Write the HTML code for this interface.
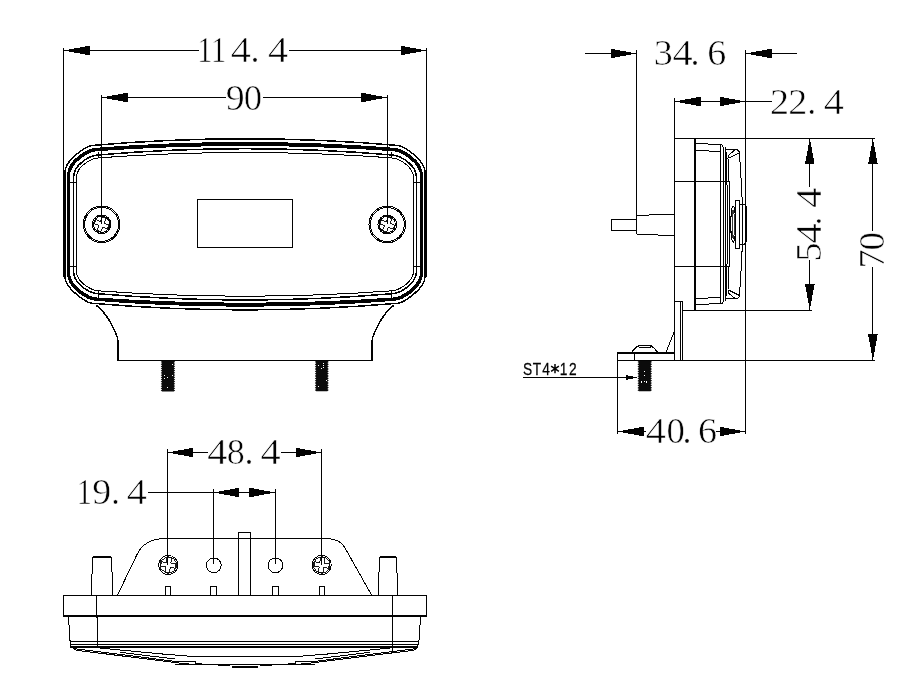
<!DOCTYPE html>
<html><head><meta charset="utf-8"><title>drawing</title>
<style>
html,body{margin:0;padding:0;background:#fff;}
body{width:921px;height:691px;overflow:hidden;}
svg{display:block;}
.d{font-family:"Liberation Serif",serif;fill:#000;stroke:#fff;stroke-width:0.55px;paint-order:fill stroke;}
.s{font-family:"Liberation Sans",sans-serif;fill:#000;stroke:#000;stroke-width:0.25px;}
</style></head><body>
<svg width="921" height="691" viewBox="0 0 921 691" fill="none" stroke="#000" shape-rendering="crispEdges">
<rect x="0" y="0" width="921" height="691" fill="#fff" stroke="none"/>
<g style="opacity:0.995">

<g id="front">
<path d="M64.90,172.30 C64.90,159.00 87.90,145.90 91.40,145.50 Q245.00,132.10 398.60,145.50 C402.10,145.90 425.10,159.00 425.10,172.30 L425.10,276.40 C425.10,289.70 402.10,302.80 398.60,303.20 Q245.00,316.60 91.40,303.20 C87.90,302.80 64.90,289.70 64.90,276.40 Z" stroke-width="1.5" fill="none" />
<path d="M67.90,176.20 C67.90,160.20 87.90,149.10 96.90,148.70 Q245.00,137.30 393.10,148.70 C402.10,149.10 422.10,160.20 422.10,176.20 L422.10,272.50 C422.10,288.50 402.10,299.60 393.10,300.00 Q245.00,311.40 96.90,300.00 C87.90,299.60 67.90,288.50 67.90,272.50 Z" stroke-width="2.0" fill="none" />
<path d="M68.70,177.60 C68.70,161.60 88.70,150.50 97.70,150.10 Q245.00,139.90 392.30,150.10 C401.30,150.50 421.30,161.60 421.30,177.60 L421.30,271.10 C421.30,287.10 401.30,298.20 392.30,298.60 Q245.00,308.80 97.70,298.60 C88.70,298.20 68.70,287.10 68.70,271.10 Z" stroke-width="2.0" fill="none" />
<path d="M73.60,176.90 C73.60,165.90 88.00,155.30 99.00,154.90 Q245.00,142.50 391.00,154.90 C402.00,155.30 416.40,165.90 416.40,176.90 L416.40,271.80 C416.40,282.80 402.00,293.40 391.00,293.80 Q245.00,306.20 99.00,293.80 C88.00,293.40 73.60,282.80 73.60,271.80 Z" stroke-width="1.5" fill="none" />
<path d="M76.50,177.80 C76.50,165.80 91.70,158.20 99.00,157.80 Q245.00,147.20 391.00,157.80 C398.30,158.20 413.50,165.80 413.50,177.80 L413.50,270.90 C413.50,282.90 398.30,290.50 391.00,290.90 Q245.00,301.50 99.00,290.90 C91.70,290.50 76.50,282.90 76.50,270.90 Z" stroke-width="1.0" fill="none" />
<line x1="68.0" y1="182.5" x2="76.0" y2="182.5" stroke-width="1.0" />
<line x1="68.0" y1="266.5" x2="76.0" y2="266.5" stroke-width="1.0" />
<line x1="98.5" y1="151.5" x2="98.5" y2="158" stroke-width="1.0" />
<line x1="98.5" y1="291" x2="98.5" y2="297.5" stroke-width="1.0" />
<line x1="422.0" y1="182.5" x2="414.0" y2="182.5" stroke-width="1.0" />
<line x1="422.0" y1="266.5" x2="414.0" y2="266.5" stroke-width="1.0" />
<line x1="391.5" y1="151.5" x2="391.5" y2="158" stroke-width="1.0" />
<line x1="391.5" y1="291" x2="391.5" y2="297.5" stroke-width="1.0" />
<rect x="197.5" y="199.5" width="95" height="48" stroke-width="1.1"/>
<circle cx="101.6" cy="224.3" r="18.3" stroke-width="1"/>
<circle cx="101.6" cy="224.3" r="17.0" stroke-width="1"/>
<circle cx="101.6" cy="224.3" r="9.3" stroke-width="1"/>
<circle cx="101.6" cy="224.3" r="8.1" stroke-width="1"/>
<path d="M-2.106,-7.128 L2.106,-7.128 L2.106,-2.106 L7.128,-2.106 L7.128,2.106 L2.106,2.106 L2.106,7.128 L-2.106,7.128 L-2.106,2.106 L-7.128,2.106 L-7.128,-2.106 L-2.106,-2.106 Z" transform="translate(101.6,224.3) rotate(22)" stroke-width="0.9"/>
<circle cx="387.3" cy="224.5" r="18.3" stroke-width="1"/>
<circle cx="387.3" cy="224.5" r="17.0" stroke-width="1"/>
<circle cx="387.3" cy="224.5" r="9.3" stroke-width="1"/>
<circle cx="387.3" cy="224.5" r="8.1" stroke-width="1"/>
<path d="M-2.106,-7.128 L2.106,-7.128 L2.106,-2.106 L7.128,-2.106 L7.128,2.106 L2.106,2.106 L2.106,7.128 L-2.106,7.128 L-2.106,2.106 L-7.128,2.106 L-7.128,-2.106 L-2.106,-2.106 Z" transform="translate(387.3,224.5) rotate(22)" stroke-width="0.9"/>
<path d="M96,305.2 C100.5,308.5 107.5,316.5 111.8,325 C114,329.5 116.3,334 117.3,337.2 Q118.0,340 118.0,345 L118.0,360.3 L372.0,360.3 L372.0,345 Q372.0,340 372.7,337.2 C373.7,334 376.0,329.5 378.2,325 C382.5,316.5 389.5,308.5 394.0,305.2" stroke-width="1.5" fill="none" />
<polygon points="161.9,360.8 174.0,360.8 175.2,361.8 173.7,363.0 175.2,364.0 173.7,365.2 175.2,366.2 173.7,367.4 175.2,368.4 173.7,369.6 175.2,370.6 173.7,371.8 175.2,372.8 173.7,374.0 175.2,375.0 173.7,376.2 175.2,377.2 173.7,378.4 175.2,379.4 173.7,380.6 175.2,381.6 173.7,382.8 175.2,383.8 173.7,385.0 175.2,386.0 173.7,387.2 175.2,388.2 173.7,389.4 175.2,390.4 173.7,391.6 172.1,391.6 162.2,391.6 160.7,390.6 162.2,389.4 160.7,388.4 162.2,387.2 160.7,386.2 162.2,385.0 160.7,384.0 162.2,382.8 160.7,381.8 162.2,380.6 160.7,379.6 162.2,378.4 160.7,377.4 162.2,376.2 160.7,375.2 162.2,374.0 160.7,373.0 162.2,371.8 160.7,370.8 162.2,369.6 160.7,368.6 162.2,367.4 160.7,366.4 162.2,365.2 160.7,364.2 162.2,363.0 160.7,362.0 162.2,360.8" fill="#0a0a0a" stroke="none" shape-rendering="auto"/>
<rect x="166.8" y="377.0" width="1" height="1" fill="#fff" stroke="none"/>
<rect x="166.8" y="386.8" width="1" height="1" fill="#fff" stroke="none"/>
<rect x="171.5" y="363.7" width="1" height="1" fill="#fff" stroke="none"/>
<rect x="171.5" y="375.4" width="1" height="1" fill="#fff" stroke="none"/>
<rect x="164.3" y="374.7" width="1" height="1" fill="#fff" stroke="none"/>
<rect x="164.3" y="375.1" width="1" height="1" fill="#fff" stroke="none"/>
<rect x="164.3" y="378.2" width="1" height="1" fill="#fff" stroke="none"/>
<polygon points="316.0,360.8 327.6,360.8 328.8,361.9 327.3,363.1 328.8,364.2 327.3,365.5 328.8,366.5 327.3,367.8 328.8,368.9 327.3,370.2 328.8,371.2 327.3,372.5 328.8,373.5 327.3,374.8 328.8,375.9 327.3,377.2 328.8,378.2 327.3,379.5 328.8,380.6 327.3,381.8 328.8,382.9 327.3,384.2 328.8,385.2 327.3,386.5 328.8,387.6 327.3,388.9 328.8,389.9 327.3,391.2 325.7,391.2 316.3,391.2 314.8,390.1 316.3,388.9 314.8,387.8 316.3,386.5 314.8,385.5 316.3,384.2 314.8,383.1 316.3,381.8 314.8,380.8 316.3,379.5 314.8,378.5 316.3,377.2 314.8,376.1 316.3,374.8 314.8,373.8 316.3,372.5 314.8,371.4 316.3,370.2 314.8,369.1 316.3,367.8 314.8,366.8 316.3,365.5 314.8,364.4 316.3,363.1 314.8,362.1 316.3,360.8" fill="#0a0a0a" stroke="none" shape-rendering="auto"/>
<rect x="325.6" y="380.4" width="1" height="1" fill="#fff" stroke="none"/>
<rect x="323.4" y="363.2" width="1" height="1" fill="#fff" stroke="none"/>
<rect x="318.4" y="364.8" width="1" height="1" fill="#fff" stroke="none"/>
<rect x="323.4" y="366.5" width="1" height="1" fill="#fff" stroke="none"/>
<rect x="323.4" y="365.2" width="1" height="1" fill="#fff" stroke="none"/>
<rect x="318.4" y="385.7" width="1" height="1" fill="#fff" stroke="none"/>
<rect x="320.9" y="368.1" width="1" height="1" fill="#fff" stroke="none"/>
</g>
<g id="frontdims">
<line x1="63.5" y1="47.5" x2="63.5" y2="277" stroke-width="1.0" />
<line x1="426.5" y1="47.5" x2="426.5" y2="277" stroke-width="1.0" />
<line x1="63.5" y1="50.5" x2="199" y2="50.5" stroke-width="1.0" />
<line x1="289.3" y1="50.5" x2="426.5" y2="50.5" stroke-width="1.0" />
<polygon points="63.5,50.5 89.5,45.7 89.5,55.3" fill="#000" stroke="none"/>
<polygon points="426.5,50.5 400.5,45.7 400.5,55.3" fill="#000" stroke="none"/>
<text transform="translate(204.9,62.1) scale(0.84,1)" text-anchor="middle" font-size="36" class="d">1</text>
<text transform="translate(218.6,62.1) scale(0.84,1)" text-anchor="middle" font-size="36" class="d">1</text>
<text transform="translate(240.9,62.1) scale(1.12,1)" text-anchor="middle" font-size="36" class="d">4</text>
<text transform="translate(255.0,62.1) scale(1.0,1)" text-anchor="middle" font-size="36" class="d">.</text>
<text transform="translate(278.0,62.1) scale(1.12,1)" text-anchor="middle" font-size="36" class="d">4</text>
<line x1="101.5" y1="95" x2="101.5" y2="224" stroke-width="1.0" />
<line x1="387.3" y1="95" x2="387.3" y2="224" stroke-width="1.0" />
<line x1="101.5" y1="97.5" x2="226" y2="97.5" stroke-width="1.0" />
<line x1="263" y1="97.5" x2="387.3" y2="97.5" stroke-width="1.0" />
<polygon points="101.5,97.5 127.5,92.7 127.5,102.3" fill="#000" stroke="none"/>
<polygon points="387.3,97.5 361.3,92.7 361.3,102.3" fill="#000" stroke="none"/>
<text transform="translate(235.3,109.6) scale(1.05,1)" text-anchor="middle" font-size="36" class="d">9</text>
<text transform="translate(252.9,109.6) scale(1.02,1)" text-anchor="middle" font-size="36" class="d">0</text>
</g>
<g id="side">
<line x1="585" y1="53.5" x2="636.7" y2="53.5" stroke-width="1.0" />
<polygon points="636.7,53.5 610.7,48.7 610.7,58.3" fill="#000" stroke="none"/>
<line x1="636.7" y1="50" x2="636.7" y2="215" stroke-width="1.0" />
<line x1="745.5" y1="50" x2="745.5" y2="433.5" stroke-width="1.0" />
<polygon points="745.5,53.5 771.5,48.7 771.5,58.3" fill="#000" stroke="none"/>
<line x1="745.5" y1="53.5" x2="796.7" y2="53.5" stroke-width="1.0" />
<text transform="translate(663.2,64.6) scale(1.06,1)" text-anchor="middle" font-size="36" class="d">3</text>
<text transform="translate(682.6,64.6) scale(1.12,1)" text-anchor="middle" font-size="36" class="d">4</text>
<text transform="translate(695.0,64.6) scale(1.0,1)" text-anchor="middle" font-size="36" class="d">.</text>
<text transform="translate(716.8,64.6) scale(1.06,1)" text-anchor="middle" font-size="36" class="d">6</text>
<line x1="674.6" y1="98.3" x2="674.6" y2="138" stroke-width="1.0" />
<line x1="674.6" y1="101.5" x2="771.5" y2="101.5" stroke-width="1.0" />
<polygon points="674.6,101.5 700.6,96.7 700.6,106.3" fill="#000" stroke="none"/>
<polygon points="745.5,101.5 719.5,96.7 719.5,106.3" fill="#000" stroke="none"/>
<text transform="translate(779.5,114.3) scale(1.06,1)" text-anchor="middle" font-size="36" class="d">2</text>
<text transform="translate(797.8,114.3) scale(1.06,1)" text-anchor="middle" font-size="36" class="d">2</text>
<text transform="translate(811.7,114.3) scale(1.0,1)" text-anchor="middle" font-size="36" class="d">.</text>
<text transform="translate(833.7,114.3) scale(1.12,1)" text-anchor="middle" font-size="36" class="d">4</text>
<line x1="674.6" y1="138.2" x2="874.7" y2="138.2" stroke-width="1.0" />
<line x1="809.8" y1="138.2" x2="809.8" y2="187.4" stroke-width="1.0" />
<line x1="809.8" y1="260.3" x2="809.8" y2="310" stroke-width="1.0" />
<polygon points="809.8,138.2 805.0,164.2 814.6,164.2" fill="#000" stroke="none"/>
<polygon points="809.8,310.0 805.0,284.0 814.6,284.0" fill="#000" stroke="none"/>
<line x1="682.7" y1="310" x2="812.3" y2="310" stroke-width="1.0" />
<text transform="translate(820.6,252.0) rotate(-90) scale(1.06,1)" text-anchor="middle" font-size="36" class="d">5</text>
<text transform="translate(820.6,233.4) rotate(-90) scale(1.12,1)" text-anchor="middle" font-size="36" class="d">4</text>
<text transform="translate(820.6,220.9) rotate(-90) scale(1.0,1)" text-anchor="middle" font-size="36" class="d">.</text>
<text transform="translate(820.6,197.8) rotate(-90) scale(1.12,1)" text-anchor="middle" font-size="36" class="d">4</text>
<line x1="872.9" y1="138.2" x2="872.9" y2="230.8" stroke-width="1.0" />
<line x1="872.9" y1="267.3" x2="872.9" y2="360.3" stroke-width="1.0" />
<polygon points="872.9,138.2 868.1,164.2 877.7,164.2" fill="#000" stroke="none"/>
<polygon points="872.9,360.3 868.1,334.3 877.7,334.3" fill="#000" stroke="none"/>
<text transform="translate(884.0,259.0) rotate(-90) scale(1.06,1)" text-anchor="middle" font-size="36" class="d">7</text>
<text transform="translate(884.0,241.2) rotate(-90) scale(1.02,1)" text-anchor="middle" font-size="36" class="d">0</text>
<line x1="617.4" y1="360.3" x2="875" y2="360.3" stroke-width="1.0" />
<line x1="617.6" y1="360.3" x2="617.6" y2="433.5" stroke-width="1.0" />
<line x1="617.6" y1="431.5" x2="646" y2="431.5" stroke-width="1.0" />
<line x1="716" y1="431.5" x2="745.5" y2="431.5" stroke-width="1.0" />
<polygon points="617.6,431.5 643.6,426.7 643.6,436.3" fill="#000" stroke="none"/>
<polygon points="745.5,431.5 719.5,426.7 719.5,436.3" fill="#000" stroke="none"/>
<text transform="translate(655.9,443.0) scale(1.12,1)" text-anchor="middle" font-size="36" class="d">4</text>
<text transform="translate(675.6,443.0) scale(1.02,1)" text-anchor="middle" font-size="36" class="d">0</text>
<text transform="translate(687.1,443.0) scale(1.0,1)" text-anchor="middle" font-size="36" class="d">.</text>
<text transform="translate(707.5,443.0) scale(1.06,1)" text-anchor="middle" font-size="36" class="d">6</text>
<text transform="translate(527.6,374.6) scale(0.86,1)" text-anchor="middle" font-size="16" class="s">S</text>
<text transform="translate(537.0,374.6) scale(0.86,1)" text-anchor="middle" font-size="16" class="s">T</text>
<text transform="translate(546.0,374.6) scale(0.86,1)" text-anchor="middle" font-size="16" class="s">4</text>
<text transform="translate(563.6,374.6) scale(0.86,1)" text-anchor="middle" font-size="16" class="s">1</text>
<text transform="translate(572.8,374.6) scale(0.86,1)" text-anchor="middle" font-size="16" class="s">2</text>
<path d="M555.0,364.09999999999997 L555.0,373.3 M551.1,366.09999999999997 L558.9,371.3 M551.1,371.3 L558.9,366.09999999999997" stroke-width="1.5" shape-rendering="auto"/>
<line x1="522.6" y1="377.5" x2="626" y2="377.5" stroke-width="1.0" />
<polygon points="637.0,377.5 625.5,374.8 625.5,380.2" fill="#000" stroke="none"/>
<line x1="674.6" y1="138.2" x2="674.6" y2="360.3" stroke-width="1.1" />
<line x1="695.2" y1="138.2" x2="695.2" y2="310" stroke-width="2.0" />
<line x1="674.6" y1="181.9" x2="728.5" y2="181.9" stroke-width="1.0" />
<line x1="674.6" y1="266.5" x2="728.5" y2="266.5" stroke-width="1.0" />
<path d="M695,143.6 L707.7,143.6 L709,144.6 L721.2,144.6 Q723.0,144.8 723.0,146.8 L723.0,301.59999999999997 Q723.0,303.59999999999997 721.2,303.79999999999995 L709,303.79999999999995 L707.7,304.79999999999995 L695,304.79999999999995" stroke-width="1.0" fill="none" />
<path d="M695,150.2 L707.7,150.2 L709,151.2 L721,151.2" stroke-width="1.0" fill="none" />
<path d="M695,298.2 L707.7,298.2 L709,297.2 L721,297.2" stroke-width="1.0" fill="none" />
<line x1="720.5" y1="144.6" x2="720.5" y2="303.79999999999995" stroke-width="1.0" />
<line x1="725.0" y1="147" x2="725.0" y2="301.4" stroke-width="1.0" />
<path d="M725.9,148 Q729.0,224.2 725.9,300.4" stroke-width="1.0" fill="none" />
<path d="M725.6,149.7 L736.5,149.7 Q739.3,150 739.6,153 L739.9,160 Q745.3,224.2 739.9,288.4 L739.6,295.4 Q739.3,298.4 736.5,298.7 L725.6,298.7" stroke-width="1.0" fill="none" />
<path d="M728,158.5 Q728,156 729,154.8 L734.6,150.2 M729.3,158 L738.8,153.2 M728,158.5 Q731.9,224.2 728,289.9 M728,289.9 Q728,292.4 729,293.59999999999997 L734.6,298.2 M729.3,290.4 L738.8,295.2" stroke-width="1.0" fill="none" />
<rect x="735.5" y="200.2" width="4" height="48" stroke-width="1"/>
<ellipse cx="733.2" cy="224.2" rx="2.4" ry="18" stroke-width="1"/>
<ellipse cx="733.2" cy="224.2" rx="1.2" ry="14.5" stroke-width="0.8"/>
<path d="M739.5,204.2 L744.5,204.2 Q746.8,206 746.8,210 L746.8,238.39999999999998 Q746.8,242.39999999999998 744.5,244.2 L739.5,244.2" stroke-width="1.0" fill="none" />
<line x1="742.6" y1="205" x2="742.6" y2="243.39999999999998" stroke-width="0.9" />
<path d="M674.6,214 L636.7,215.5 L636.7,234 L674.6,235.8" stroke-width="1.0" fill="none" />
<path d="M636.7,219 L611,219 L611,230 L636.7,230" stroke-width="1.0" fill="none" />
<path d="M674.6,301.7 L682.4,301.7 L682.4,360.3" stroke-width="1.1" fill="none" />
<line x1="680.3" y1="301.7" x2="680.3" y2="360.3" stroke-width="1.0" />
<path d="M674.6,353 L617.4,353 L617.4,360.3" stroke-width="1.1" fill="none" />
<line x1="634.3" y1="353" x2="634.3" y2="360.3" stroke-width="1.0" />
<path d="M631.3,353 C634,349 636.5,346 640,345.6 L649.5,345.6 C653,346 655.5,349 657.9,353" stroke-width="1.3" fill="none" />
<path d="M638.5,347.3 L651,347.3" stroke-width="1.0" fill="none" />
<line x1="666" y1="352.5" x2="674.2" y2="331.7" stroke-width="1.0" />
<polygon points="638.7,360.8 650.8,360.8 652.0,361.9 650.5,363.1 652.0,364.2 650.5,365.5 652.0,366.5 650.5,367.8 652.0,368.9 650.5,370.2 652.0,371.2 650.5,372.5 652.0,373.6 650.5,374.9 652.0,375.9 650.5,377.2 652.0,378.3 650.5,379.6 652.0,380.6 650.5,381.9 652.0,383.0 650.5,384.3 652.0,385.3 650.5,386.6 652.0,387.7 650.5,389.0 652.0,390.0 650.5,391.3 648.9,391.3 639.0,391.3 637.5,390.2 639.0,389.0 637.5,387.9 639.0,386.6 637.5,385.6 639.0,384.3 637.5,383.2 639.0,381.9 637.5,380.9 639.0,379.6 637.5,378.5 639.0,377.2 637.5,376.2 639.0,374.9 637.5,373.8 639.0,372.5 637.5,371.5 639.0,370.2 637.5,369.1 639.0,367.8 637.5,366.8 639.0,365.5 637.5,364.4 639.0,363.1 637.5,362.1 639.0,360.8" fill="#0a0a0a" stroke="none" shape-rendering="auto"/>
<rect x="643.6" y="374.9" width="1" height="1" fill="#fff" stroke="none"/>
<rect x="646.1" y="381.3" width="1" height="1" fill="#fff" stroke="none"/>
<rect x="641.1" y="381.1" width="1" height="1" fill="#fff" stroke="none"/>
<rect x="643.6" y="370.8" width="1" height="1" fill="#fff" stroke="none"/>
<rect x="641.1" y="381.6" width="1" height="1" fill="#fff" stroke="none"/>
<rect x="646.1" y="382.2" width="1" height="1" fill="#fff" stroke="none"/>
<rect x="643.6" y="381.1" width="1" height="1" fill="#fff" stroke="none"/>
</g>
<g id="bottom">
<line x1="167.3" y1="449.3" x2="167.3" y2="565" stroke-width="1.0" />
<line x1="321.6" y1="449.3" x2="321.6" y2="565" stroke-width="1.0" />
<line x1="167.3" y1="452.5" x2="208" y2="452.5" stroke-width="1.0" />
<line x1="281.3" y1="452.5" x2="321.6" y2="452.5" stroke-width="1.0" />
<polygon points="167.3,452.5 193.3,447.7 193.3,457.3" fill="#000" stroke="none"/>
<polygon points="321.6,452.5 295.6,447.7 295.6,457.3" fill="#000" stroke="none"/>
<text transform="translate(217.3,464.0) scale(1.12,1)" text-anchor="middle" font-size="36" class="d">4</text>
<text transform="translate(235.7,464.0) scale(1.0,1)" text-anchor="middle" font-size="36" class="d">8</text>
<text transform="translate(249.0,464.0) scale(1.0,1)" text-anchor="middle" font-size="36" class="d">.</text>
<text transform="translate(270.5,464.0) scale(1.12,1)" text-anchor="middle" font-size="36" class="d">4</text>
<line x1="213.4" y1="489.3" x2="213.4" y2="564" stroke-width="1.0" />
<line x1="275.3" y1="489.3" x2="275.3" y2="564" stroke-width="1.0" />
<line x1="147.6" y1="492.5" x2="275.3" y2="492.5" stroke-width="1.0" />
<polygon points="213.4,492.5 239.4,487.7 239.4,497.3" fill="#000" stroke="none"/>
<polygon points="275.3,492.5 249.3,487.7 249.3,497.3" fill="#000" stroke="none"/>
<text transform="translate(84.3,503.6) scale(0.84,1)" text-anchor="middle" font-size="36" class="d">1</text>
<text transform="translate(101.8,503.6) scale(1.05,1)" text-anchor="middle" font-size="36" class="d">9</text>
<text transform="translate(115.5,503.6) scale(1.0,1)" text-anchor="middle" font-size="36" class="d">.</text>
<text transform="translate(136.8,503.6) scale(1.12,1)" text-anchor="middle" font-size="36" class="d">4</text>
<rect x="63.5" y="595.5" width="363" height="21" stroke-width="1.1"/>
<line x1="63.5" y1="615.8" x2="426.5" y2="615.8" stroke-width="2.0" />
<path d="M96.8,595.5 L97.3,648.5" stroke-width="1.0" fill="none" />
<path d="M392.8,595.5 L392.3,652" stroke-width="1.0" fill="none" />
<path d="M91.8,595.5 L91.8,575 L92.8,571 L92.8,557.5 L111.7,557.5 L111.7,571 L112.7,575 L112.7,595.5" stroke-width="1.0" fill="none" />
<line x1="93.3" y1="557.3" x2="111.2" y2="557.3" stroke-width="2.2" />
<path d="M378.2,595.5 L378.2,575 L379.2,571 L379.2,557.5 L396.5,557.5 L396.5,571 L397.5,575 L397.5,595.5" stroke-width="1.0" fill="none" />
<line x1="379.7" y1="557.3" x2="396.0" y2="557.3" stroke-width="2.2" />
<path d="M117.3,595.5 L137,554.5 C141,546 150,538.5 165,538.5 L325.5,538.5 C340,538.5 343.5,545 347,551.5 L371.8,595.5" stroke-width="1.0" fill="none" />
<path d="M238.4,595.5 L238.4,532.6 L250.5,532.6 L250.5,595.5" stroke-width="1.0" fill="none" />
<circle cx="168.3" cy="565" r="9.6" stroke-width="1"/>
<circle cx="168.3" cy="565" r="8.2" stroke-width="0.9"/>
<path d="M-2.2,-7.4 L2.2,-7.4 L2.2,-2.2 L7.4,-2.2 L7.4,2.2 L2.2,2.2 L2.2,7.4 L-2.2,7.4 L-2.2,2.2 L-7.4,2.2 L-7.4,-2.2 L-2.2,-2.2 Z" transform="translate(168.3,565) rotate(8)" stroke-width="0.9"/>
<circle cx="321.7" cy="565" r="9.6" stroke-width="1"/>
<circle cx="321.7" cy="565" r="8.2" stroke-width="0.9"/>
<path d="M-2.2,-7.4 L2.2,-7.4 L2.2,-2.2 L7.4,-2.2 L7.4,2.2 L2.2,2.2 L2.2,7.4 L-2.2,7.4 L-2.2,2.2 L-7.4,2.2 L-7.4,-2.2 L-2.2,-2.2 Z" transform="translate(321.7,565) rotate(8)" stroke-width="0.9"/>
<circle cx="213.8" cy="565.3" r="7.4" stroke-width="1"/>
<circle cx="275.4" cy="565.3" r="7.4" stroke-width="1"/>
<path d="M165.6,595.5 L165.6,586.4 L170.7,586.4 L170.7,595.5" stroke-width="1.0" fill="none" />
<path d="M210.6,595.5 L210.6,586.4 L216.8,586.4 L216.8,595.5" stroke-width="1.0" fill="none" />
<path d="M272.7,595.5 L272.7,586.4 L278.3,586.4 L278.3,595.5" stroke-width="1.0" fill="none" />
<path d="M319.2,595.5 L319.2,586.4 L324.4,586.4 L324.4,595.5" stroke-width="1.0" fill="none" />
<path d="M68.4,616 L70.1,641.8 L418.9,641.8 L420.6,616 M70.1,641.8 L70.6,647.4 L72.3,648" stroke-width="1.0" fill="none" />
<line x1="70.1" y1="644.7" x2="418.9" y2="644.7" stroke-width="1.0" />
<line x1="71" y1="647.0" x2="418" y2="647.0" stroke-width="2.0" />
<path d="M418.9,641.8 Q418.5,646 414,648.5" stroke-width="1.0" fill="none" />
<path d="M72.30000000000001,647.6 L76.0,650.2 L175.4,662.6 L195.0,664.6" stroke-width="1.0" fill="none" />
<path d="M74.0,648.6 L175.4,661.4 L195.0,661.4 L195.0,664.6" stroke-width="1.0" fill="none" />
<path d="M99.5,648 L160.0,653.8 L193.5,656.5 L245.0,656.5" stroke-width="1.0" fill="none" />
<path d="M120.0,652.3 L175.0,659" stroke-width="1.0" fill="none" />
<path d="M195.0,663.6 L230.0,665.7" stroke-width="1.0" fill="none" />
<path d="M417.7,647.6 L414.0,650.2 L314.6,662.6 L295.0,664.6" stroke-width="1.0" fill="none" />
<path d="M416.0,648.6 L314.6,661.4 L295.0,661.4 L295.0,664.6" stroke-width="1.0" fill="none" />
<path d="M390.5,648 L330.0,653.8 L296.5,656.5 L245.0,656.5" stroke-width="1.0" fill="none" />
<path d="M370.0,652.3 L315.0,659" stroke-width="1.0" fill="none" />
<path d="M295.0,663.6 L260.0,665.7" stroke-width="1.0" fill="none" />
<line x1="175.4" y1="664.6" x2="314.6" y2="664.6" stroke-width="1.0" />
<line x1="231.9" y1="666.8" x2="258" y2="666.8" stroke-width="2.0" />
</g>
</g>
</svg>
</body></html>
